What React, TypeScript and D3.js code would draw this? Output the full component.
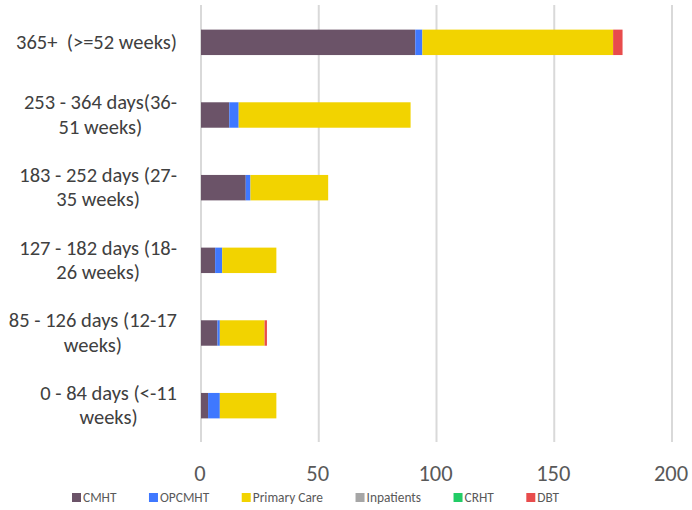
import React, { useEffect, useRef } from "react";
import * as d3 from "d3";

const WIDTH = 692;
const HEIGHT = 510;

const categories = [
  "365+  (>=52 weeks)",
  "253 - 364 days(36-|51 weeks)",
  "183 - 252 days (27-|35 weeks)",
  "127 - 182 days (18-|26 weeks)",
  "85 - 126 days (12-17|weeks)",
  "0 - 84 days (<-11|weeks)",
];

const seriesNames = ["CMHT", "OPCMHT", "Primary Care", "Inpatients", "CRHT", "DBT"];
const seriesColors = ["#6b5368", "#3f78ff", "#f2d300", "#a6a6a6", "#22cc66", "#e84c4c"];

const cmht = [91, 12, 19, 6, 7, 3];
const opcmht = [3, 4, 2, 3, 1, 5];
const primaryCare = [81, 73, 33, 23, 19, 24];
const inpatients = [0, 0, 0, 0, 0, 0];
const crht = [0, 0, 0, 0, 0, 0];
const dbt = [4, 0, 0, 0, 1, 0];

const xTicks = [0, 50, 100, 150, 200];

const FONT = "Carlito, Calibri, Lato, sans-serif";

export default function App() {
  const ref = useRef<SVGSVGElement>(null);

  useEffect(() => {
    const svg = d3.select(ref.current);
    svg.selectAll("*").remove();

    const margin = { top: 6, left: 201, right: 20, bottom: 68 };
    const x = d3.scaleLinear().domain([0, 200]).range([margin.left, 672]);
    const y = d3
      .scaleBand()
      .domain(categories)
      .range([margin.top, HEIGHT - margin.bottom])
      .paddingInner(0.65)
      .paddingOuter(0.325);

    // gridlines
    svg
      .append("g")
      .selectAll("line")
      .data(xTicks)
      .enter()
      .append("line")
      .attr("x1", (d) => x(d))
      .attr("x2", (d) => x(d))
      .attr("y1", 5)
      .attr("y2", HEIGHT - margin.bottom)
      .attr("stroke", "#d9d9d9")
      .attr("stroke-width", 2);

    // stacked bars
    const rows = categories.map((c, i) => ({
      cat: c,
      CMHT: cmht[i],
      OPCMHT: opcmht[i],
      "Primary Care": primaryCare[i],
      Inpatients: inpatients[i],
      CRHT: crht[i],
      DBT: dbt[i],
    }));
    const stacked = d3.stack<any>().keys(seriesNames)(rows);

    svg
      .append("g")
      .selectAll("g")
      .data(stacked)
      .enter()
      .append("g")
      .attr("fill", (d, i) => seriesColors[i])
      .selectAll("rect")
      .data((d) => d.filter((p) => p[1] - p[0] > 0))
      .enter()
      .append("rect")
      .attr("x", (p) => x(p[0]))
      .attr("width", (p) => x(p[1]) - x(p[0]))
      .attr("y", (p) => y(p.data.cat)!)
      .attr("height", y.bandwidth());

    // x tick labels
    svg
      .append("g")
      .selectAll("text")
      .data(xTicks)
      .enter()
      .append("text")
      .attr("x", (d) => x(d) - 1)
      .attr("y", 481)
      .attr("text-anchor", "middle")
      .attr("font-family", FONT)
      .attr("font-size", 22.5)
      .attr("fill", "#595959")
      .text((d) => d);

    // category labels: centred lines, block right-aligned
    const labelRight = 177;
    categories.forEach((c) => {
      const lines = c.split("|");
      const g = svg.append("g");
      const texts = lines.map((l) =>
        g
          .append("text")
          .attr("font-family", FONT)
          .attr("font-size", 20.5)
          .attr("fill", "#404040")
          .attr("text-anchor", "middle")
          .style("white-space", "pre")
          .text(l)
      );
      const maxW = d3.max(texts, (t) => (t.node() as SVGTextElement).getComputedTextLength()) || 0;
      const cx = labelRight - maxW / 2;
      const cy = y(c)! + y.bandwidth() / 2;
      const lh = 24.5;
      texts.forEach((t, i) => {
        t.attr("x", cx).attr("y", cy + (i - (lines.length - 1) / 2) * lh + 6.5);
      });
    });

    // legend
    let lx = 72;
    seriesNames.forEach((s, i) => {
      svg
        .append("rect")
        .attr("x", lx)
        .attr("y", 493)
        .attr("width", 9)
        .attr("height", 9)
        .attr("fill", seriesColors[i]);
      const t = svg
        .append("text")
        .attr("x", lx + 11)
        .attr("y", 502)
        .attr("font-family", FONT)
        .attr("font-size", 13.4)
        .attr("fill", "#595959")
        .text(s);
      lx += 11 + (t.node() as SVGTextElement).getComputedTextLength() + 32.5;
    });
  }, []);

  return (
    <svg
      ref={ref}
      width={WIDTH}
      height={HEIGHT}
      style={{ position: "absolute", left: 0, top: 0, background: "#fff" }}
    />
  );
}
